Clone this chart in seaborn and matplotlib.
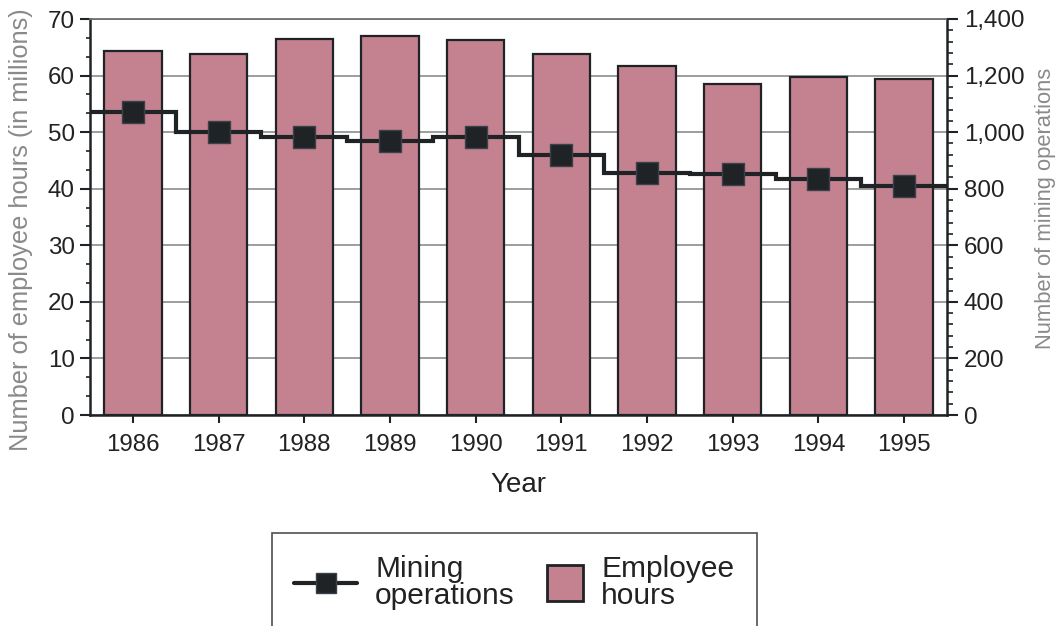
import numpy as np
import matplotlib
matplotlib.use("Agg")
import matplotlib.pyplot as plt
import seaborn as sns
from matplotlib.lines import Line2D
from matplotlib.patches import Patch, Rectangle
from matplotlib.legend_handler import HandlerPatch
from matplotlib.ticker import AutoMinorLocator, FuncFormatter

# data
years = ["1986", "1987", "1988", "1989", "1990", "1991", "1992", "1993", "1994", "1995"]
employee_hours = [64.3, 63.9, 66.4, 67.0, 66.2, 63.9, 61.7, 58.5, 59.8, 59.4]   # millions
mining_ops = [1071, 1001, 983, 970, 984, 920, 856, 852, 834, 811]

bar_color = "#c48291"
dark = "#1f2326"
grey_text = "#8a8a8a"

sns.set_style("white")
plt.rcParams["font.family"] = ["Liberation Sans", "DejaVu Sans"]

fig = plt.figure(figsize=(10.62, 6.26), dpi=100)
ax = fig.add_axes([90 / 1062, 1 - 415 / 626, (947 - 90) / 1062, (415 - 19) / 626])

# bars for employee hours
sns.barplot(x=years, y=employee_hours, color=bar_color, saturation=1,
            edgecolor=dark, linewidth=1.6, width=0.67, ax=ax, zorder=2)
ax.set_xlim(-0.5, len(years) - 0.5)
ax.set_ylim(0, 70)
ax.set_yticks(range(0, 71, 10))
ax.yaxis.set_minor_locator(AutoMinorLocator(3))
ax.yaxis.grid(True, color="#8c8c8c", linewidth=1.2, zorder=0)
ax.set_axisbelow(True)

ax.tick_params(axis="x", direction="out", length=6, width=1.5, color=dark,
               labelsize=17.4, labelcolor="#222222", pad=8, bottom=True)
ax.tick_params(axis="y", which="major", direction="out", length=7, width=1.5,
               color=dark, labelsize=17.4, labelcolor="#222222", pad=4, left=True)
ax.tick_params(axis="y", which="minor", direction="out", length=3, width=1.2,
               color=dark, left=True)

for side in ["left", "bottom", "right"]:
    ax.spines[side].set_color(dark)
    ax.spines[side].set_linewidth(1.8)
ax.spines["top"].set_color("#6f6f6f")
ax.spines["top"].set_linewidth(1.3)

ax.set_xlabel("Year", fontsize=20, color="#222222", labelpad=11)
ax.set_ylabel("Number of employee hours (in millions)", fontsize=18.3, color=grey_text)
ax.yaxis.set_label_coords(-0.066, 0.467)

# step line + markers for mining operations
ax2 = ax.twinx()
ax2.set_ylim(0, 1400)
edges = np.arange(len(years) + 1) - 0.5
ax2.stairs(mining_ops, edges, baseline=None, color=dark, linewidth=3, zorder=3)
sns.scatterplot(x=np.arange(len(years)), y=mining_ops, marker="s", s=240,
                color=dark, edgecolor="#3a4148", linewidth=1, ax=ax2, zorder=4)
ax2.set_xlim(-0.5, len(years) - 0.5)
ax2.set_yticks(range(0, 1401, 200))
ax2.yaxis.set_major_formatter(FuncFormatter(lambda v, p: f"{int(v):,}"))
ax2.yaxis.set_minor_locator(AutoMinorLocator(5))
ax2.tick_params(axis="y", which="major", direction="out", length=8, width=1.5,
                color=dark, labelsize=17.4, labelcolor="#222222", pad=4, right=True)
ax2.tick_params(axis="y", which="minor", direction="out", length=4, width=1.2,
                color=dark, right=True)
for s in ax2.spines.values():
    s.set_visible(False)
ax2.set_ylabel("Number of mining operations", fontsize=15.8, color=grey_text)
ax2.yaxis.set_label_coords(1.103, 0.523)


# legend: square patch drawn at the right end of its handle slot
def square_patch(legend, orig_handle, xdescent, ydescent, width, height, fontsize):
    side = 26
    return Rectangle((width - side - xdescent, height / 2 - side / 2 - ydescent), side, side)


handles = [
    Line2D([], [], color=dark, linewidth=3, marker="s", markersize=15,
           markerfacecolor=dark, markeredgecolor="#3a4148"),
    Patch(facecolor=bar_color, edgecolor=dark, linewidth=2),
]
labels = ["Mining\noperations", "Employee\nhours"]
leg = fig.legend(handles, labels, loc="upper left", bbox_to_anchor=(272 / 1062, 1 - 533 / 626),
                 borderaxespad=0, ncol=2, fontsize=21.5, frameon=True, fancybox=False,
                 borderpad=0.75, handlelength=2.1, handletextpad=0.6, columnspacing=0.2,
                 labelspacing=0.2, handler_map={Patch: HandlerPatch(patch_func=square_patch)})
leg.get_frame().set_edgecolor("#222222")
leg.get_frame().set_linewidth(1.2)
for t in leg.get_texts():
    t.set_linespacing(0.95)
    t.set_color("#222222")

fig.savefig("out.png", dpi=100)
